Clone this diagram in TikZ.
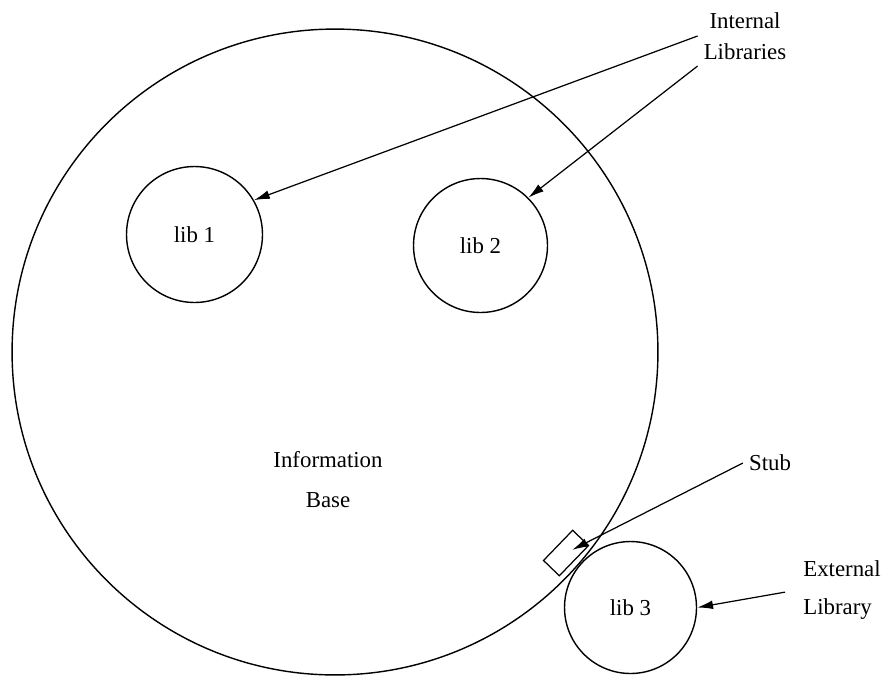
\documentclass[tikz,border=0pt]{standalone}
\usepackage{fontspec}
\setmainfont{Liberation Serif}
\usetikzlibrary{arrows.meta, positioning, calc}

\begin{document}
\begin{tikzpicture}[x=0.02cm, y=-0.02cm,
    font=\rmfamily\fontsize{13}{16}\selectfont,
    lib/.style={draw, circle, line width=0.8pt, minimum size=2.72cm, inner sep=0pt},
    ptr/.style={draw, line width=0.7pt, -{Latex[length=9pt,width=5pt]}}]
    \useasboundingbox (0,0) rectangle (885,677);

    % Information base
    \node[draw, circle, line width=0.8pt, minimum size=12.92cm] (base) at (335,352) {};
    \node (infoA) at (328,460) {Information};
    \node (infoB) at (328,500) {Base};

    % Libraries
    \node[lib] (lib1) at (194.5,234.5) {lib 1};
    \node[lib, minimum size=2.68cm] (lib2) at (480.5,245.5) {lib 2};
    \node[lib, minimum size=2.64cm] (lib3) at (630.5,607.5) {lib 3};

    % Stub
    \node[draw, rectangle, line width=0.7pt, minimum width=0.84cm, minimum height=0.44cm,
          rotate=46] (stub) at (566,553) {};

    % Labels
    \node[align=center] (intlbl) at (745,36) {Internal\\[2pt]Libraries};
    \node (stublbl) at (770,463) {Stub};
    \node[align=left] (extlbl) at (842,590) {External\\[6pt]Library};

    % Arrows
    \draw[ptr] (intlbl.west) -- (lib1.30);
    \draw[ptr] (intlbl.south west) -- (lib2.45);
    \draw[ptr, shorten >=4pt] (stublbl.west) -- (stub.center);
    \draw[ptr, shorten <=7pt] (extlbl.west) -- (lib3.east);

\end{tikzpicture}
\end{document}
